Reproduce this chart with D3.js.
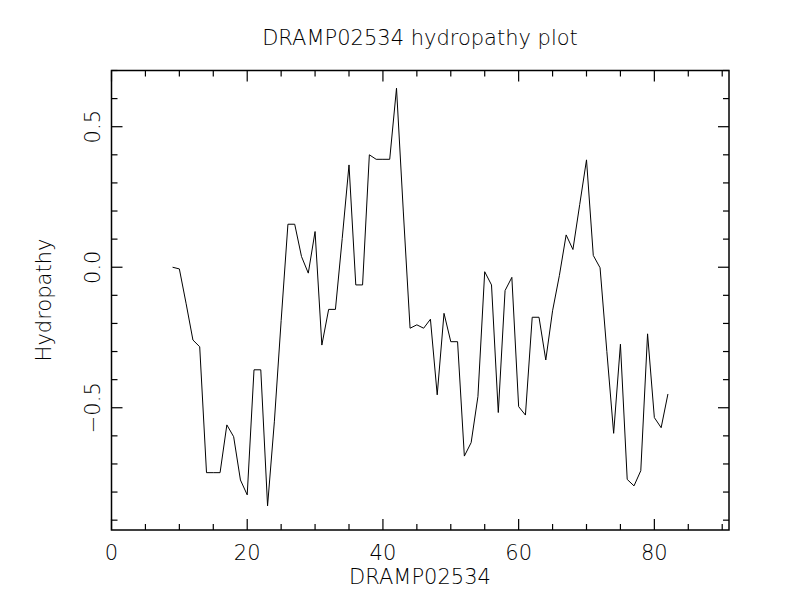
<!DOCTYPE html>
<html lang="en">
<head>
<meta charset="utf-8">
<title>DRAMP02534 hydropathy plot</title>
<script src="https://d3js.org/d3.v7.min.js"></script>
<style>
  body { margin: 0; background: #fff; }
  text { font-family: "DejaVu Sans", sans-serif; font-weight: 200; fill: #000; }
</style>
</head>
<body>
<div id="chart"></div>
<script>
// residue positions and hydropathy values
const positions = [9,10,11,12,13,14,15,16,17,18,19,20,21,22,23,24,25,26,27,28,29,30,
  31,32,33,34,35,36,37,38,39,40,41,42,43,44,45,46,47,48,49,50,51,52,53,54,55,56,57,58,59,60,
  61,62,63,64,65,66,67,68,69,70,71,72,73,74,75,76,77,78,79,80,81,82];
const hydropathy = [0.0,-0.006,-0.13,-0.259,-0.283,-0.731,-0.731,-0.731,-0.561,-0.603,-0.757,-0.81,
  -0.365,-0.365,-0.849,-0.55,-0.19,0.153,0.153,0.038,-0.021,0.127,
  -0.277,-0.15,-0.15,0.102,0.364,-0.063,-0.063,0.4,0.384,0.384,0.384,0.637,0.2,-0.217,-0.205,-0.217,-0.185,-0.454,
  -0.164,-0.265,-0.265,-0.672,-0.624,-0.46,-0.016,-0.063,-0.517,-0.083,-0.036,-0.496,
  -0.526,-0.178,-0.178,-0.33,-0.155,-0.03,0.115,0.063,0.223,0.382,0.042,-0.002,-0.3,-0.591,
  -0.274,-0.755,-0.778,-0.724,-0.237,-0.535,-0.571,-0.451];
const xMajor = [0, 20, 40, 60, 80];
const yMajor = [-0.5, 0.0, 0.5];

const width = 800, height = 600;
const pLeft = 111.5, pRight = 729, pTop = 70.5, pBottom = 530;
const fs = 21;

const svg = d3.select('#chart').append('svg')
  .attr('width', width).attr('height', height);

const x = d3.scaleLinear().domain([0, 91]).range([pLeft, pRight]);
const y = d3.scaleLinear().domain([-0.935, 0.7]).range([pBottom, pTop]);

const xMinor = d3.range(0, 91, 5);
const yMinor = d3.range(-9, 8).map(d => d / 10);

// frame
svg.append('rect')
  .attr('x', pLeft).attr('y', pTop)
  .attr('width', pRight - pLeft).attr('height', pBottom - pTop)
  .attr('fill', 'none').attr('stroke', '#000').attr('stroke-width', 1.5);

// inward ticks, all four sides
const tickLen = v => (Math.abs(v % 20) < 1e-9 ? 11 : 6);
const ytickLen = v => (Math.abs(Math.round(v * 10) % 5) === 0 ? 11 : 6);

const g = svg.append('g').attr('stroke', '#000').attr('stroke-width', 1.2);
g.selectAll('line.xb').data(xMinor).enter().append('line')
  .attr('x1', d => x(d)).attr('x2', d => x(d))
  .attr('y1', pBottom).attr('y2', d => pBottom - tickLen(d));
g.selectAll('line.xt').data(xMinor).enter().append('line')
  .attr('x1', d => x(d)).attr('x2', d => x(d))
  .attr('y1', pTop).attr('y2', d => pTop + tickLen(d));
g.selectAll('line.yl').data(yMinor).enter().append('line')
  .attr('y1', d => y(d)).attr('y2', d => y(d))
  .attr('x1', pLeft).attr('x2', d => pLeft + ytickLen(d));
g.selectAll('line.yr').data(yMinor).enter().append('line')
  .attr('y1', d => y(d)).attr('y2', d => y(d))
  .attr('x1', pRight).attr('x2', d => pRight - ytickLen(d));

// tick labels
svg.selectAll('text.xl').data(xMajor).enter().append('text')
  .attr('x', d => x(d)).attr('y', 560)
  .attr('text-anchor', 'middle').attr('font-size', fs)
  .text(d => d);
svg.selectAll('text.yl').data(yMajor).enter().append('text')
  .attr('transform', d => `translate(100,${y(d)}) rotate(-90)`)
  .attr('text-anchor', 'middle').attr('font-size', fs)
  .text(d => d3.format('.1f')(d).replace('-', '\u2212'));

// labels
svg.append('text').attr('x', 420).attr('y', 45)
  .attr('text-anchor', 'middle').attr('font-size', fs)
  .text('DRAMP02534 hydropathy plot');
svg.append('text').attr('x', 420).attr('y', 584)
  .attr('text-anchor', 'middle').attr('font-size', fs)
  .text('DRAMP02534');
svg.append('text')
  .attr('transform', 'translate(51,300) rotate(-90)')
  .attr('text-anchor', 'middle').attr('font-size', fs)
  .text('Hydropathy');

// data line
const line = d3.line().x((d, i) => x(positions[i])).y(d => y(d));
svg.append('path').datum(hydropathy)
  .attr('d', line)
  .attr('fill', 'none').attr('stroke', '#000').attr('stroke-width', 1);
</script>
</body>
</html>
